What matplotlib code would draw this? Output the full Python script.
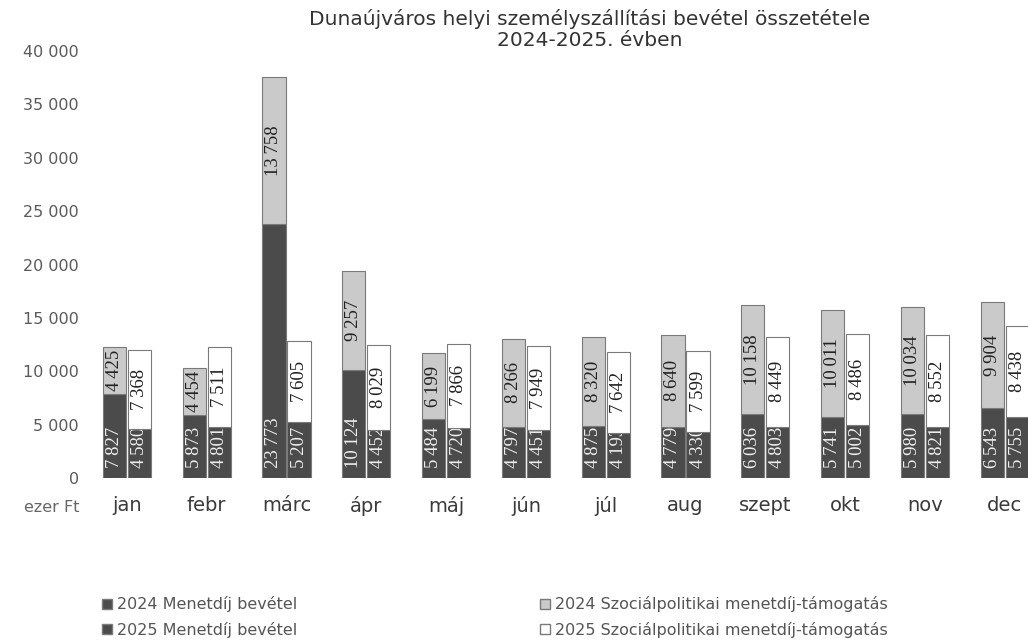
import matplotlib.pyplot as plt
from matplotlib.patches import Patch
import numpy as np

# data (ezer Ft)
months = ['jan', 'febr', 'márc', 'ápr', 'máj', 'jún', 'júl', 'aug', 'szept', 'okt', 'nov', 'dec']
menetdij_2024 = [7827, 5873, 23773, 10124, 5484, 4797, 4875, 4779, 6036, 5741, 5980, 6543]
szoc_2024 = [4425, 4454, 13758, 9257, 6199, 8266, 8320, 8640, 10158, 10011, 10034, 9904]
menetdij_2025 = [4580, 4801, 5207, 4452, 4720, 4451, 4193, 4330, 4803, 5002, 4821, 5755]
szoc_2025 = [7368, 7511, 7605, 8029, 7866, 7949, 7642, 7599, 8449, 8486, 8552, 8438]

title = 'Dunaújváros helyi személyszállítási bevétel összetétele\n2024-2025. évben'
labels = ['2024 Menetdíj bevétel', '2025 Menetdíj bevétel',
          '2024 Szociálpolitikai menetdíj-támogatás', '2025 Szociálpolitikai menetdíj-támogatás']

dark = '#4b4b4b'
light = '#cacaca'
edge = '#7a7a7a'


def fmt(v):
    return f'{v:,}'.replace(',', '\u2009')


def add_labels(ax, bars, values, bottoms, color, z, base=False):
    for b, v, bot in zip(bars, values, bottoms):
        xc = b.get_x() + b.get_width() / 2
        if base:
            ax.annotate(fmt(v), (xc, bot), xytext=(0, 7), textcoords='offset points',
                        rotation=90, ha='center', va='bottom', color=color,
                        fontsize=13.5, family='Liberation Serif', zorder=z)
        else:
            ax.text(xc, bot + v / 2, fmt(v), rotation=90, ha='center', va='center',
                    color=color, fontsize=13.5, family='Liberation Serif', zorder=z)


fig = plt.figure(figsize=(10.28, 6.43), dpi=100)
W, H = 1028, 643
ax = fig.add_axes([87 / W, 1 - 478 / H, 957.6 / W, 427 / H])

x = np.arange(len(months))
w = 0.29
off = 0.157

b1 = ax.bar(x - off, menetdij_2024, w, color=dark, edgecolor=edge, linewidth=0.8, zorder=1)
b3 = ax.bar(x + off, menetdij_2025, w, color=dark, edgecolor=edge, linewidth=0.8, zorder=1)
add_labels(ax, b1, menetdij_2024, [0] * 12, '#eeeeee', 1.5, base=True)
add_labels(ax, b3, menetdij_2025, [0] * 12, '#eeeeee', 1.5, base=True)
b2 = ax.bar(x - off, szoc_2024, w, bottom=menetdij_2024, color=light, edgecolor=edge,
            linewidth=0.8, zorder=2)
b4 = ax.bar(x + off, szoc_2025, w, bottom=menetdij_2025, color='white', edgecolor=edge,
            linewidth=0.8, zorder=2)
add_labels(ax, b2, szoc_2024, menetdij_2024, '#222222', 3)
add_labels(ax, b4, szoc_2025, menetdij_2025, '#222222', 3)

ax.set_xlim(-0.5, 11.5)
ax.set_ylim(0, 40000)
ax.set_yticks(range(0, 40001, 5000))
ax.set_yticklabels([fmt(v).replace('\u2009', ' ') for v in range(0, 40001, 5000)])
ax.set_xticks(x)
ax.set_xticklabels(months)
ax.tick_params(axis='y', length=0, pad=6, labelsize=11.5, labelcolor='#5a5a5a')
ax.tick_params(axis='x', length=0, pad=13, labelsize=14, labelcolor='#3a3a3a')
for s in ax.spines.values():
    s.set_visible(False)

fig.text(79 / W, 1 - 508 / H, 'ezer Ft', ha='right', va='center', fontsize=11.5, color='#666666')
fig.text(590 / W, 1 - 9 / H, title, ha='center', va='top', fontsize=14.5,
         color='#333333', linespacing=1.12)

handles = [Patch(facecolor=dark, edgecolor=edge), Patch(facecolor=dark, edgecolor=edge),
           Patch(facecolor=light, edgecolor=edge), Patch(facecolor='white', edgecolor=edge)]
for i, xl in enumerate([88, 526]):
    fig.legend(handles[2 * i:2 * i + 2], labels[2 * i:2 * i + 2], loc='upper left',
               bbox_to_anchor=(xl / W, 1 - 582 / H), frameon=False, fontsize=11.5,
               handlelength=0.6, handleheight=0.6, handletextpad=0.3, labelspacing=0.6,
               labelcolor='#555555')

fig.savefig('out.png', dpi=100)
